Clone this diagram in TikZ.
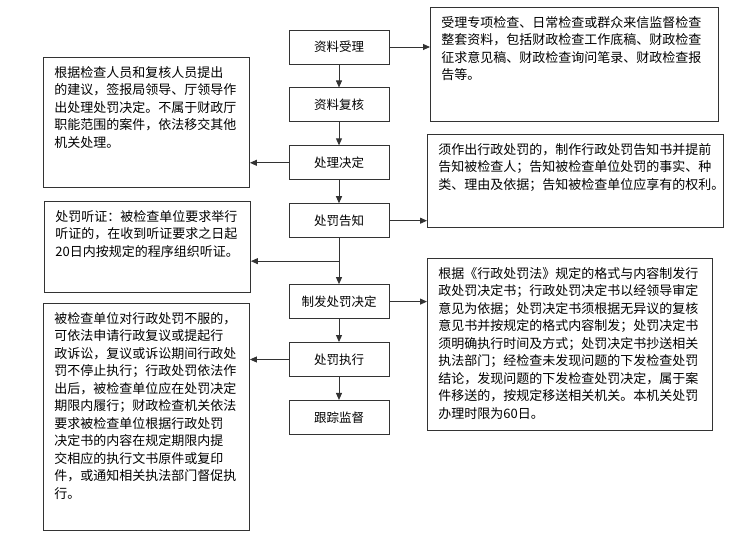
\documentclass[tikz,border=0pt]{standalone}
\usepackage{fontspec}
\newfontfamily\cjk{Noto Sans CJK SC}
\usepackage{tikz}
\usetikzlibrary{positioning,arrows.meta,calc}

\newcommand{\notetext}[3]{\parbox[t][#1][t]{#2}{#3}}

\begin{document}
\begin{tikzpicture}[x=1pt,y=-1pt,
        stagebox/.style={draw=black!80, line width=0.9pt, minimum width=100pt,
                         minimum height=34pt, inner sep=0pt,
                         font=\cjk\fontsize{12.5}{15}\selectfont},
        notebox/.style={draw=black!80, line width=0.9pt, anchor=north west,
                        inner xsep=11pt, inner ysep=9pt,
                        font=\cjk\fontsize{13}{17.5}\selectfont},
        flow/.style={draw=black!80, line width=0.9pt,
                     -{Triangle[length=7pt,width=6pt]}}]
    \useasboundingbox (0,0) rectangle (748,545);

    \node[stagebox] (accept) at (339,47) {资料受理};
    \node[stagebox, below=23pt of accept] (review) {资料复核};
    \node[stagebox, below=23pt of review] (decide) {处理决定};
    \node[stagebox, below=23pt of decide] (notify) {处罚告知};
    \node[stagebox, below=46pt of notify] (issue) {制发处罚决定};
    \node[stagebox, below=23pt of issue] (execute) {处罚执行};
    \node[stagebox, below=23pt of execute] (monitor) {跟踪监督};

    \node[notebox] (acceptnote) at (430,7) {\notetext{96pt}{266pt}{%
        受理专项检查、日常检查或群众来信监督检查\\
        整套资料，包括财政检查工作底稿、财政检查\\
        征求意见稿、财政检查询问笔录、财政检查报\\
        告等。}};
    \node[notebox] (notifynote) at (427,134) {\notetext{75pt}{274pt}{%
        须作出行政处罚的，制作行政处罚告知书并提前\\
        告知被检查人；告知被检查单位处罚的事实、种\\
        类、理由及依据；告知被检查单位应享有的权利。}};
    \node[notebox] (issuenote) at (427,258) {\notetext{154pt}{263pt}{%
        根据《行政处罚法》规定的格式与内容制发行\\
        政处罚决定书；行政处罚决定书以经领导审定\\
        意见为依据；处罚决定书须根据无异议的复核\\
        意见书并按规定的格式内容制发；处罚决定书\\
        须明确执行时间及方式；处罚决定书抄送相关\\
        执法部门；经检查未发现问题的下发检查处罚\\
        结论，发现问题的下发检查处罚决定，属于案\\
        件移送的，按规定移送相关机关。本机关处罚\\
        办理时限为60日。}};
    \node[notebox] (decidenote) at (43,57) {\notetext{112pt}{184pt}{%
        根据检查人员和复核人员提出\\
        的建议，签报局领导、厅领导作\\
        出处理处罚决定。不属于财政厅\\
        职能范围的案件，依法移交其他\\
        机关处理。}};
    \node[notebox] (hearnote) at (44,201) {\notetext{73pt}{184pt}{%
        处罚听证：被检查单位要求举行\\
        听证的，在收到听证要求之日起\\
        20日内按规定的程序组织听证。}};
    \node[notebox] (executenote) at (43,303) {\notetext{209pt}{184pt}{%
        被检查单位对行政处罚不服的，\\
        可依法申请行政复议或提起行\\
        政诉讼，复议或诉讼期间行政处\\
        罚不停止执行；行政处罚依法作\\
        出后，被检查单位应在处罚决定\\
        期限内履行；财政检查机关依法\\
        要求被检查单位根据行政处罚\\
        决定书的内容在规定期限内提\\
        交相应的执行文书原件或复印\\
        件，或通知相关执法部门督促执\\
        行。}};

    \coordinate (fork) at ($(notify.south)!0.5!(issue.north)$);

    \draw[flow] (accept) -- (review);
    \draw[flow] (review) -- (decide);
    \draw[flow] (decide) -- (notify);
    \draw[flow] (notify) -- (issue);
    \draw[flow] (issue) -- (execute);
    \draw[flow] (execute) -- (monitor);
    \draw[flow] (accept.east) -- (accept.east -| acceptnote.west);
    \draw[flow] (notify.east) -- (notify.east -| notifynote.west);
    \draw[flow] (issue.east) -- (issue.east -| issuenote.west);
    \draw[flow] (decide.west) -- (decide.west -| decidenote.east);
    \draw[flow] (fork) -- (fork -| hearnote.east);
    \draw[flow] (execute.west) -- (execute.west -| executenote.east);
\end{tikzpicture}
\end{document}
